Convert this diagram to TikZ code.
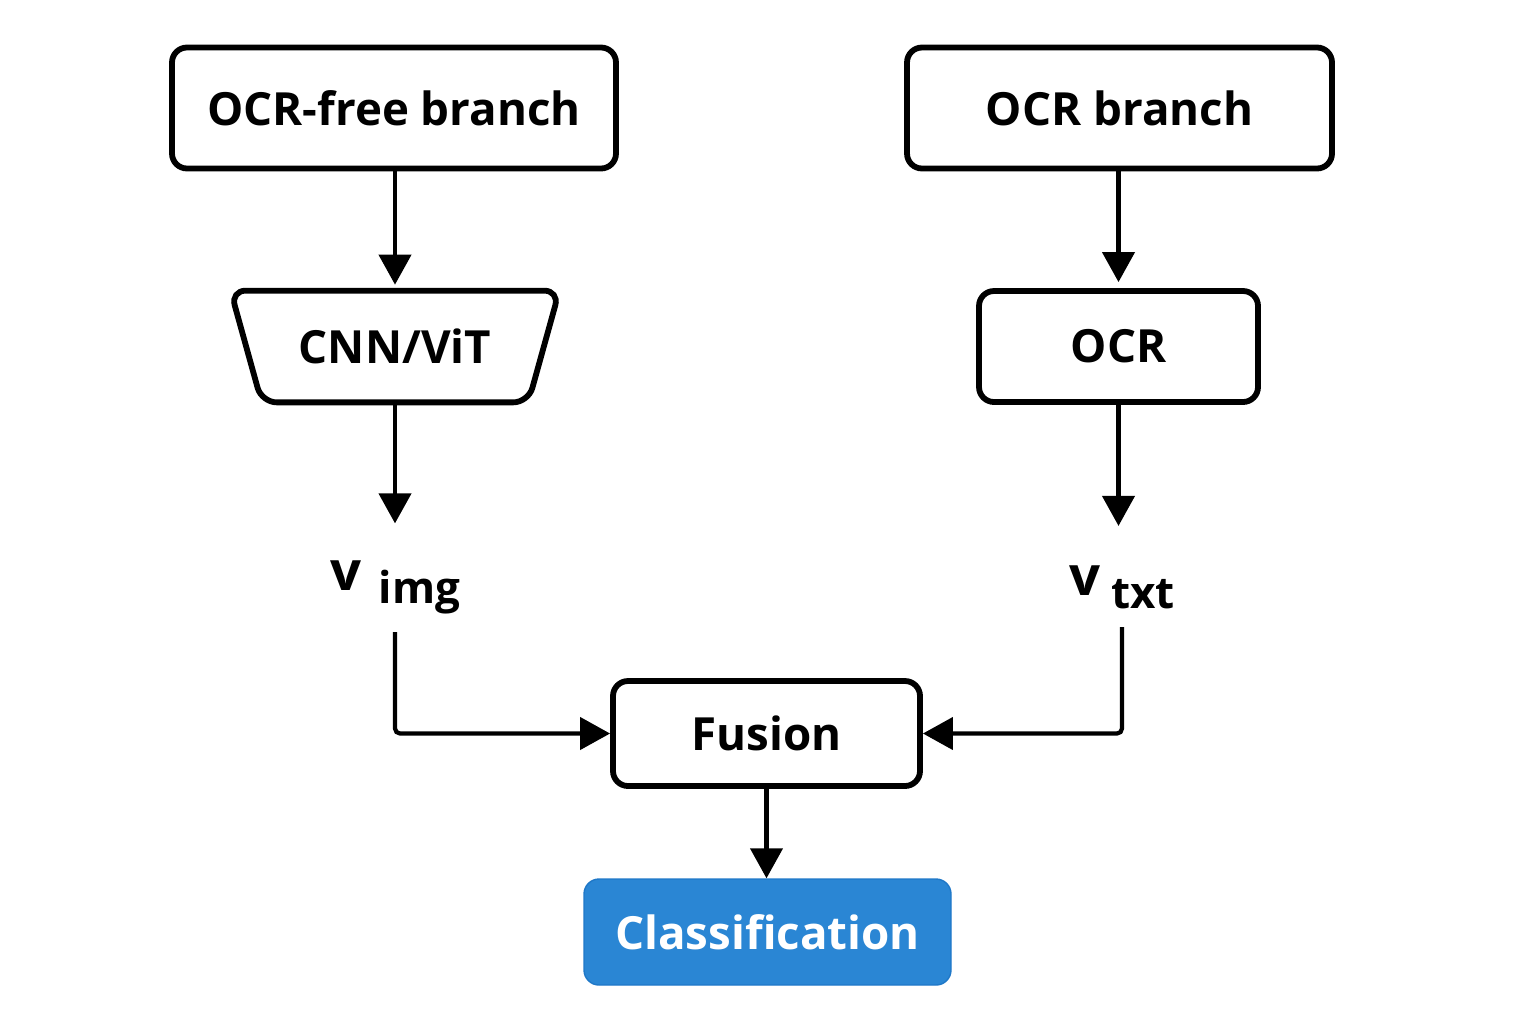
\documentclass[tikz,border=0pt]{standalone}
\usepackage{fontspec}
\setmainfont{Open Sans}
\usepackage{tikz}
\usetikzlibrary{arrows.meta,positioning}
\definecolor{clsblue}{HTML}{2A86D4}
\definecolor{clsedge}{HTML}{1F78C8}

\begin{document}
\begin{tikzpicture}[
    font=\fontsize{26}{31}\selectfont\bfseries,
    stagebox/.style={draw,line width=3.3pt,rounded corners=0.3cm,
      inner sep=0pt},
    featlabel/.style={font=\fontsize{25}{30}\selectfont\bfseries,inner sep=0.35cm},
    flow/.style={line width=2.4pt,-{Triangle[width=0.64cm,length=0.6cm]}}
  ]
    \useasboundingbox (0,0) rectangle (30.72,-20.48);
    % branch heads
    \node[stagebox,minimum width=8.88cm,minimum height=2.42cm]
      (freehead) at (7.88,-2.16) {OCR-free branch};
    \node[stagebox,minimum width=8.5cm,minimum height=2.42cm]
      (ocrhead) at (22.39,-2.16) {OCR branch};
    % encoders
    \node[minimum width=5.32cm,minimum height=2.22cm,inner sep=0pt]
      (encoder) at (7.9,-6.93) {CNN/ViT};
    \draw[line width=3.3pt,rounded corners=0.3cm]
      ([xshift=-0.62cm]encoder.north west) -- ([xshift=0.62cm]encoder.north east)
      -- (encoder.south east) -- (encoder.south west) -- cycle;
    \node[stagebox,minimum width=5.58cm,minimum height=2.22cm]
      (ocrstage) at (22.37,-6.93) {OCR};
    % feature vectors
    \node[featlabel] (vimg) at (7.9,-11.75)
      {{\fontsize{31}{30}\selectfont v}\hspace{0.4em}\raisebox{-0.3em}{img}};
    \node[featlabel] (vtxt) at (22.44,-11.75)
      {{\fontsize{31}{30}\selectfont v}\hspace{0.25em}\raisebox{-0.3em}{txt}};
    % fusion and output
    \node[stagebox,minimum width=6.14cm,minimum height=2.1cm]
      (fusion) at (15.33,-14.67) {Fusion};
    \node[draw=clsedge,fill=clsblue,text=white,line width=0.8pt,
      rounded corners=0.3cm,minimum width=7.34cm,minimum height=2.12cm]
      (classify) at (15.35,-18.64) {Classification};

    \draw[flow,shorten >=0.12cm] (freehead.south -| encoder.north) -- (encoder.north);
    \draw[flow,shorten >=0.12cm] (ocrhead.south -| ocrstage.north) -- (ocrstage.north);
    \draw[flow] (encoder.south) -- ++(0,-2.42);
    \draw[flow] (ocrstage.south) -- ++(0,-2.42);
    \draw[flow,rounded corners=0.1cm] (vimg.south) |- (fusion.west);
    \draw[flow,rounded corners=0.1cm] (vtxt.south) |- (fusion.east);
    \draw[flow] (fusion.south) -- (fusion.south |- classify.north);
  \end{tikzpicture}
\end{document}
